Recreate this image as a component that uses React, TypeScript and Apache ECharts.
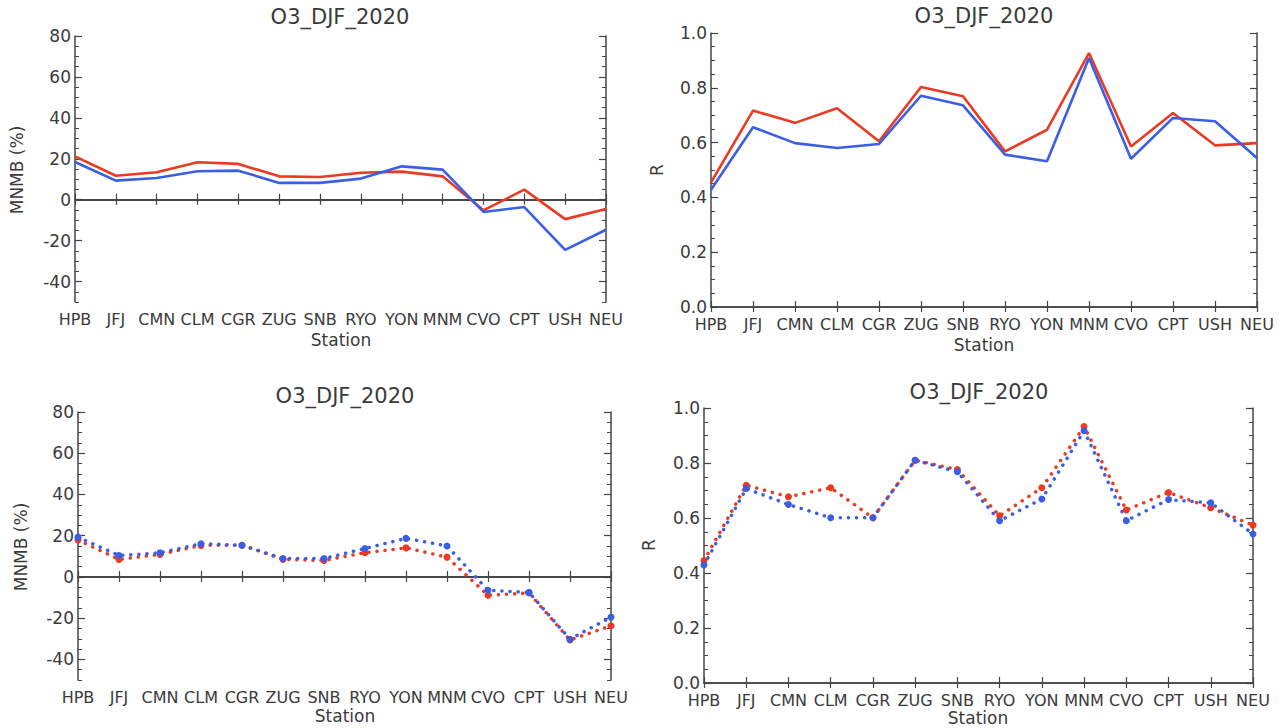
import React, { useEffect, useRef } from "react";
import * as echarts from "echarts";

const stations = ["HPB", "JFJ", "CMN", "CLM", "CGR", "ZUG", "SNB", "RYO", "YON", "MNM", "CVO", "CPT", "USH", "NEU"];

const titleText = "O3_DJF_2020";
const mnmbTicks = [-40, -20, 0, 20, 40, 60, 80];

// top-left: MNMB (%), solid lines
const tlRed = [21.2, 11.7, 13.4, 18.3, 17.5, 11.4, 11.1, 13.2, 13.7, 11.4, -5.2, 4.9, -9.5, -4.6];
const tlBlue = [18.4, 9.3, 10.6, 13.9, 14.2, 8.2, 8.2, 10.3, 16.3, 14.7, -6.0, -3.6, -24.5, -14.7];

// top-right: R, solid lines
const trRed = [0.455, 0.717, 0.672, 0.725, 0.605, 0.803, 0.769, 0.568, 0.647, 0.927, 0.586, 0.708, 0.59, 0.598];
const trBlue = [0.428, 0.656, 0.598, 0.58, 0.595, 0.771, 0.736, 0.556, 0.532, 0.909, 0.541, 0.69, 0.678, 0.544];

// bottom-left: MNMB (%), dotted lines with markers
const blRed = [17.9, 8.5, 10.9, 15.3, 15.4, 8.5, 8.0, 11.7, 14.1, 9.6, -8.9, -7.8, -30.6, -23.7];
const blBlue = [19.3, 10.4, 11.7, 16.1, 15.4, 8.9, 8.9, 13.8, 18.7, 15.0, -6.5, -7.5, -30.2, -19.5];

// bottom-right: R, dotted lines with markers
const brRed = [0.445, 0.719, 0.677, 0.71, 0.601, 0.81, 0.776, 0.608, 0.71, 0.933, 0.629, 0.693, 0.637, 0.574];
const brBlue = [0.429, 0.707, 0.649, 0.601, 0.601, 0.81, 0.768, 0.59, 0.669, 0.917, 0.59, 0.667, 0.655, 0.542];

const RED = "#ec3a22";
const BLUE = "#3a5ee6";
const AXIS = "#444";
const TEXT = "#3a3a3a";
const FONT = "DejaVu Sans";

type Panel = {
  grid: { left: number; top: number; width: number; height: number };
  kind: "mnmb" | "r";
  dotted: boolean;
  red: number[];
  blue: number[];
  title: [number, number];
  yName: [number, number];
  xName: [number, number];
};

const panels: Panel[] = [
  { grid: { left: 75, top: 36, width: 531, height: 266 }, kind: "mnmb", dotted: false, red: tlRed, blue: tlBlue, title: [340, 17], yName: [17, 170], xName: [341, 340] },
  { grid: { left: 711, top: 33, width: 546, height: 274 }, kind: "r", dotted: false, red: trRed, blue: trBlue, title: [984, 16], yName: [657, 170], xName: [984, 345] },
  { grid: { left: 78, top: 412, width: 533, height: 268 }, kind: "mnmb", dotted: true, red: blRed, blue: blBlue, title: [345, 396], yName: [21, 547], xName: [345, 716] },
  { grid: { left: 704, top: 408, width: 549, height: 275 }, kind: "r", dotted: true, red: brRed, blue: brBlue, title: [979, 392], yName: [649, 545], xName: [978, 718] },
];

function buildOption() {
  const grids: any[] = [];
  const xAxes: any[] = [];
  const yAxes: any[] = [];
  const series: any[] = [];
  const graphics: any[] = [];

  panels.forEach((p, g) => {
    grids.push({ ...p.grid, containLabel: false });
    const xIdx = xAxes.length;
    xAxes.push({
      gridIndex: g,
      type: "category",
      data: stations,
      boundaryGap: false,
      position: "bottom",
      axisLine: { show: true, lineStyle: { color: AXIS, width: 1.5 } },
      axisTick: { show: true, inside: true, length: 6, lineStyle: { color: AXIS, width: 1.2 } },
      axisLabel: { interval: 0, margin: 9, fontSize: 16, color: TEXT, fontFamily: FONT, hideOverlap: false },
      splitLine: { show: false },
    });
    xAxes.push({
      gridIndex: g,
      type: "category",
      data: stations,
      boundaryGap: false,
      position: "top",
      axisLine: { show: true, lineStyle: { color: AXIS, width: 1.5 } },
      axisTick: { show: true, inside: true, length: 5, lineStyle: { color: AXIS, width: 1.2 } },
      axisLabel: { show: false },
      splitLine: { show: false },
    });

    const yIdx = yAxes.length;
    (["left", "right"] as const).forEach((pos) => {
      if (p.kind === "r") {
        yAxes.push({
          gridIndex: g,
          type: "value",
          position: pos,
          min: 0,
          max: 1,
          interval: 0.2,
          axisLine: { show: true, lineStyle: { color: AXIS, width: 1.5 } },
          axisTick: { show: true, inside: true, length: 7, lineStyle: { color: AXIS, width: 1.2 } },
          minorTick: { show: true, splitNumber: 4, length: 4, lineStyle: { color: AXIS, width: 1 } },
          axisLabel: {
            show: pos === "left",
            margin: 4,
            fontSize: 17,
            color: TEXT,
            fontFamily: FONT,
            formatter: (v: number) => v.toFixed(1),
          },
          splitLine: { show: false },
        });
      } else {
        yAxes.push({
          gridIndex: g,
          type: "value",
          position: pos,
          min: -50,
          max: 80,
          axisLine: { show: true, lineStyle: { color: AXIS, width: 1.5 } },
          axisTick: { show: true, inside: true, length: 7, customValues: mnmbTicks, lineStyle: { color: AXIS, width: 1.2 } },
          axisLabel: {
            show: pos === "left",
            margin: 4,
            fontSize: 17,
            color: TEXT,
            fontFamily: FONT,
            customValues: mnmbTicks,
          },
          splitLine: { show: false },
        });
        yAxes.push({
          gridIndex: g,
          type: "value",
          position: pos,
          min: -50,
          max: 80,
          interval: 5,
          axisLine: { show: false },
          axisTick: { show: true, inside: true, length: 4, lineStyle: { color: AXIS, width: 1 } },
          axisLabel: { show: false },
          splitLine: { show: false },
        });
      }
    });

    const mk = (name: string, color: string, data: number[], withZero: boolean) => {
      const s: any = {
        name,
        type: "line",
        xAxisIndex: xIdx,
        yAxisIndex: yIdx,
        data,
        silent: true,
        z: 3,
      };
      if (p.dotted) {
        s.symbol = "circle";
        s.symbolSize = 7;
        s.showAllSymbol = true;
        s.itemStyle = { color };
        s.lineStyle = { color, width: 3.5, type: [0.1, 8], cap: "round" };
      } else {
        s.symbol = "none";
        s.lineStyle = { color, width: 2.6 };
      }
      if (withZero) {
        s.markLine = {
          silent: true,
          symbol: "none",
          label: { show: false },
          lineStyle: { color: AXIS, width: 1.5, type: "solid" },
          data: [{ yAxis: 0 }],
          z: 2,
        };
      }
      return s;
    };
    series.push(mk("red", RED, p.red, p.kind === "mnmb"));
    series.push(mk("blue", BLUE, p.blue, false));

    graphics.push({
      type: "text",
      x: p.title[0],
      y: p.title[1],
      style: { text: titleText, fill: TEXT, font: `21px "${FONT}"`, textAlign: "center", textVerticalAlign: "middle" },
    });
    graphics.push({
      type: "text",
      x: p.yName[0],
      y: p.yName[1],
      rotation: Math.PI / 2,
      style: { text: p.kind === "mnmb" ? "MNMB (%)" : "R", fill: TEXT, font: `17px "${FONT}"`, textAlign: "center", textVerticalAlign: "middle" },
    });
    graphics.push({
      type: "text",
      x: p.xName[0],
      y: p.xName[1],
      style: { text: "Station", fill: TEXT, font: `17px "${FONT}"`, textAlign: "center", textVerticalAlign: "middle" },
    });
  });

  return {
    animation: false,
    backgroundColor: "#fff",
    grid: grids,
    xAxis: xAxes,
    yAxis: yAxes,
    series,
    graphic: graphics,
  };
}

export default function App() {
  const ref = useRef<HTMLDivElement>(null);
  useEffect(() => {
    if (!ref.current) return;
    const chart = echarts.init(ref.current, undefined, { renderer: "svg" });
    chart.setOption(buildOption() as any);
    return () => chart.dispose();
  }, []);
  return <div ref={ref} style={{ position: "fixed", left: 0, top: 0, width: 1286, height: 728, background: "#fff" }} />;
}
